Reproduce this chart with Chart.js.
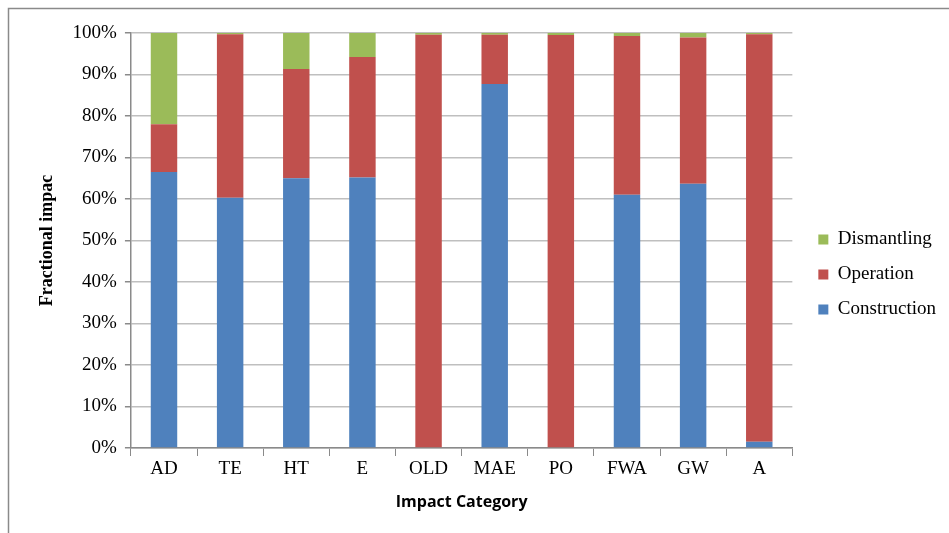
<!DOCTYPE html>
<html>
<head>
<meta charset="utf-8">
<script src="https://cdn.jsdelivr.net/npm/chart.js@4"></script>
<style>
  html, body { margin: 0; padding: 0; background: #fff; }
  #wrap { width: 949px; height: 533px; }
</style>
</head>
<body>
<div id="wrap"><canvas id="impactChart" width="949" height="533"></canvas></div>
<script>
// Impact categories and the share of each life-cycle phase (%)
const categories = ["AD", "TE", "HT", "E", "OLD", "MAE", "PO", "FWA", "GW", "A"];
const construction = [66.5, 60.3, 65.0, 65.2, 0.0, 87.7, 0.0, 61.0, 63.7, 1.5];
const operation = [11.5, 39.4, 26.3, 29.0, 99.6, 11.9, 99.5, 38.3, 35.2, 98.2];
const dismantling = [22.0, 0.3, 8.7, 5.8, 0.4, 0.4, 0.5, 0.7, 1.1, 0.3];
const yTicks = [0, 10, 20, 30, 40, 50, 60, 70, 80, 90, 100];

const serif = "'Liberation Serif', 'Times New Roman', serif";

// grey frame around the whole figure + legend spacing tweaks
const framePlugin = {
    id: 'frame',
    beforeLayout(chart) {
        // leave a bit more room between plot and legend
        const lg = chart.legend;
        if (lg && !lg._wider) {
            const fit = lg.fit.bind(lg);
            lg.fit = function () { fit(); this.width += 22; };
            lg._wider = true;
        }
    },
    afterLayout(chart) {
        const lg = chart.legend;
        if (lg) { lg.left += 10; lg.right += 10; }
    },
    beforeDraw(chart) {
        const ctx = chart.ctx;
        ctx.save();
        ctx.fillStyle = '#fff';
        ctx.fillRect(0, 0, chart.width, chart.height);
        ctx.strokeStyle = '#8a8a8a';
        ctx.lineWidth = 1.5;
        ctx.strokeRect(8.5, 8.5, 1000, 600);
        ctx.restore();
    }
};

const ctx = document.getElementById('impactChart').getContext('2d');
const impactChart = new Chart(ctx, {
    type: 'bar',
    data: {
        labels: categories,
        datasets: [
            { label: 'Construction', data: construction, backgroundColor: '#4F81BD' },
            { label: 'Operation', data: operation, backgroundColor: '#C0504D' },
            { label: 'Dismantling', data: dismantling, backgroundColor: '#9BBB59' }
        ]
    },
    options: {
        responsive: false,
        animation: false,
        categoryPercentage: 1,
        barPercentage: 0.4,
        layout: { padding: { left: 33, top: 33, right: -9, bottom: 17 } },
        scales: {
            x: {
                stacked: true,
                grid: { display: true, drawOnChartArea: false, offset: true, tickLength: 8, color: '#8a8a8a' },
                border: { color: '#8a8a8a', width: 1.5 },
                ticks: { color: '#000', font: { family: serif, size: 19 }, padding: 2 },
                title: {
                    display: true,
                    text: 'Impact Category',
                    color: '#000',
                    font: { family: "'Open Sans', sans-serif", size: 16, weight: 'bold' },
                    padding: { top: 10 }
                }
            },
            y: {
                stacked: true,
                min: 0,
                max: 100,
                afterBuildTicks(scale) {
                    scale.ticks = yTicks.map(v => ({ value: v }));
                },
                grid: { color: '#bfbfbf', lineWidth: 1.5, tickLength: 6, tickColor: '#8a8a8a' },
                border: { color: '#8a8a8a', width: 1.5 },
                ticks: {
                    color: '#000',
                    font: { family: serif, size: 19 },
                    padding: 8,
                    callback: v => v + '%'
                },
                title: {
                    display: true,
                    text: 'Fractional impac',
                    color: '#000',
                    font: { family: serif, size: 18, weight: 'bold' },
                    padding: { bottom: 6 }
                }
            }
        },
        plugins: {
            legend: {
                position: 'right',
                reverse: true,
                labels: {
                    color: '#000',
                    boxWidth: 10,
                    boxHeight: 10,
                    padding: 16,
                    font: { family: serif, size: 19 }
                }
            },
            tooltip: { enabled: false }
        }
    },
    plugins: [framePlugin]
});
</script>
</body>
</html>
